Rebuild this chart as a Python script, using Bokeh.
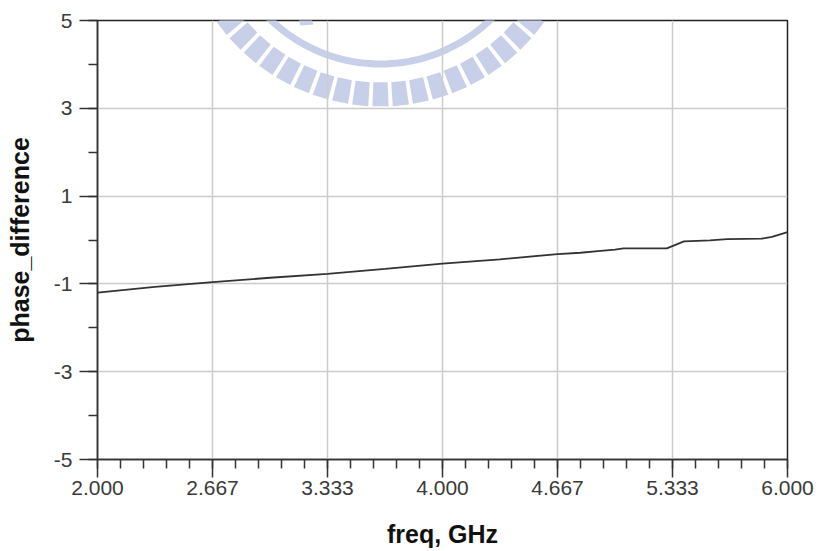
import math
from bokeh.plotting import figure
from bokeh.models import Range1d, FixedTicker, PolyAnnotation
from bokeh.embed import file_html
from bokeh.resources import INLINE

# Phase difference vs frequency
freq_ghz = [2.0, 2.333, 2.667, 3.0, 3.333, 3.667, 4.0, 4.333, 4.667, 4.8, 4.9,
            5.0, 5.05, 5.30, 5.40, 5.55, 5.65, 5.85, 5.91, 6.0]
phase_diff = [-1.20, -1.07, -0.96, -0.86, -0.77, -0.66, -0.54, -0.44, -0.32, -0.29, -0.255,
              -0.22, -0.19, -0.19, -0.03, -0.01, 0.02, 0.03, 0.07, 0.18]

x_ticks = [2.0, 2.0 + 4 / 6, 2.0 + 8 / 6, 4.0, 2.0 + 16 / 6, 2.0 + 20 / 6, 6.0]
x_tick_labels = ["2.000", "2.667", "3.333", "4.000", "4.667", "5.333", "6.000"]
y_ticks = [-5, -3, -1, 1, 3, 5]
y_tick_labels = ["-5", "-3", "-1", "1", "3", "5"]

X0, X1, Y0, Y1 = 2.0, 6.0, -5.0, 5.0
LEFT, TOP, FW, FH = 97, 20, 690, 439
W, H = 816, 551

p = figure(width=W, height=H, output_backend="svg", toolbar_location=None,
           x_range=Range1d(X0, X1), y_range=Range1d(Y0, Y1),
           min_border_left=LEFT, min_border_top=TOP,
           min_border_right=W - LEFT - FW, min_border_bottom=H - TOP - FH,
           background_fill_color="white", border_fill_color="white")

p.outline_line_color = "#222222"
p.outline_line_width = 1.5

# faint emblem behind the plot, laid out in canvas pixels
def to_data(px, py):
    return (X0 + (px - LEFT) * (X1 - X0) / FW, Y1 - (py - TOP) * (Y1 - Y0) / FH)

emblem_color = "#c7cfe9"
cx, cy = 380.0, -95.0

def add_poly(pts):
    xs, ys = zip(*[to_data(a, b) for a, b in pts])
    p.add_layout(PolyAnnotation(xs=list(xs), ys=list(ys), fill_color=emblem_color,
                                fill_alpha=1.0, line_color=None, level="image"))

def ring_pt(r, ang_deg):
    a = math.radians(ang_deg)
    return (cx + r * math.sin(a), cy + r * math.cos(a))

# radial bars
ang = -58.0
while ang <= 58.1:
    pts = [ring_pt(177, ang - 2.3), ring_pt(201, ang - 2.3),
           ring_pt(201, ang + 2.3), ring_pt(177, ang + 2.3)]
    add_poly(pts)
    ang += 5.8

# inner arc
arc = [ring_pt(162, a) for a in range(-70, 71, 2)] + \
      [ring_pt(155, a) for a in range(70, -71, -2)]
add_poly(arc)

# upper shapes
add_poly([(330, 0), (473, 0), (473, 12), (330, 12)])
add_poly([(273, 0), (288, 0), (290, 13), (276, 13)])
add_poly([(293, 0), (305, 0), (313, 24), (300, 25)])

# grid
p.xgrid.ticker = FixedTicker(ticks=x_ticks)
p.ygrid.ticker = FixedTicker(ticks=y_ticks)
for g in (p.xgrid, p.ygrid):
    g.grid_line_color = "#cccccc"
    g.grid_line_width = 1.5

# axes
p.xaxis.ticker = FixedTicker(ticks=x_ticks,
                             minor_ticks=[X0 + k * 4 / 30 for k in range(31)])
p.yaxis.ticker = FixedTicker(ticks=y_ticks, minor_ticks=list(range(-5, 6)))
p.xaxis.major_label_overrides = dict(zip(x_ticks, x_tick_labels))
p.yaxis.major_label_overrides = dict(zip(y_ticks, y_tick_labels))

for ax in (p.xaxis[0], p.yaxis[0]):
    ax.axis_line_color = "#333333"
    ax.axis_line_width = 1.5
    ax.major_tick_line_color = "#333333"
    ax.minor_tick_line_color = "#333333"
    ax.major_tick_line_width = 1.5
    ax.minor_tick_line_width = 1.5
    ax.major_tick_in = 0
    ax.minor_tick_in = 0
    ax.major_tick_out = 18
    ax.minor_tick_out = 9
    ax.major_label_text_font = "Liberation Sans"
    ax.major_label_text_font_size = "21px"
    ax.major_label_text_color = "#3a3a3a"
    ax.axis_label_text_font = "Liberation Sans"
    ax.axis_label_text_font_style = "bold"
    ax.axis_label_text_font_size = "25px"
    ax.axis_label_text_color = "#111111"

p.xaxis.major_label_standoff = 3
p.yaxis.major_label_standoff = 7
p.yaxis.major_label_orientation = "horizontal"
p.xaxis.axis_label = "freq, GHz"
p.yaxis.axis_label = "phase_difference"
p.xaxis.axis_label_standoff = 22
p.yaxis.axis_label_standoff = 17

p.line(freq_ghz, phase_diff, line_color="#333333", line_width=1.8)

open("out.html", "w").write(file_html(p, INLINE))
